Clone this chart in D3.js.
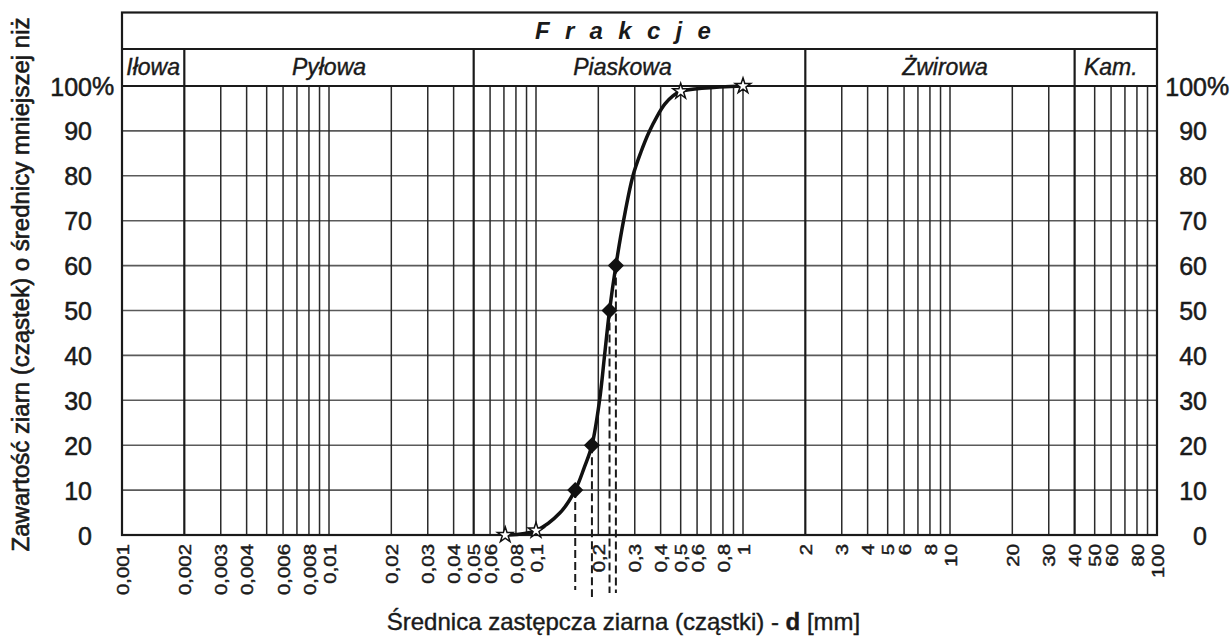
<!DOCTYPE html>
<html><head><meta charset="utf-8">
<script src="https://cdn.jsdelivr.net/npm/d3@7/dist/d3.min.js"></script>
<style>
html,body{margin:0;padding:0;background:#fff;}
svg{display:block;font-family:"Liberation Sans",Arial,sans-serif;}
</style></head>
<body><svg id="c" width="1231" height="641"></svg>
<script>
// ---- data ----
const gridDecades = [0.001, 0.01, 0.1, 1, 10];
const gridMultipliers = [1, 2, 3, 4, 5, 6, 7, 8, 9];
const xTickValues = [0.001,0.002,0.003,0.004,0.006,0.008,0.01,0.02,0.03,0.04,0.05,0.06,0.08,0.1,0.2,0.3,0.4,0.5,0.6,0.8,1,2,3,4,5,6,8,10,20,30,40,50,60,80,100];
const xTickLabels = ["0,001","0,002","0,003","0,004","0,006","0,008","0,01","0,02","0,03","0,04","0,05","0,06","0,08","0,1","0,2","0,3","0,4","0,5","0,6","0,8","1","2","3","4","5","6","8","10","20","30","40","50","60","80","100"];
const yTickValues = [0,10,20,30,40,50,60,70,80,90,100];
const fractionNames = ["Iłowa","Pyłowa","Piaskowa","Żwirowa","Kam."];
const fractionBounds = [0.001, 0.002, 0.05, 2, 40, 100];
const curveD = [0.071,0.1,0.131,0.1547,0.171,0.1863,0.2028,0.2144,0.2266,0.2432,0.2648,0.294,0.3214,0.3513,0.384,0.4198,0.4588,0.5,1.0];
const curveP = [0,1,5,10,15,20,30,40,50,60,70,80,85.3,89.7,93.2,96,97.8,98.8,100];
const starD = [0.071,0.1,0.5,1.0];
const starP = [0,1,98.8,100];
const diamondD = [0.1547,0.1863,0.2266,0.2432];
const diamondP = [10,20,50,60];
const title = "Frakcje";
const yTitle = "Zawartość ziarn (cząstek) o średnicy mniejszej niż";

// ---- layout ----
const L = 122, R = 1157, T = 12.5, ROW = 49, TOP = 86, B = 535;
const INK = "#1a1a1a";
const svg = d3.select("#c");
const x = d3.scaleLog().domain([0.001, 100]).range([L, R]);
const y = d3.scaleLinear().domain([0, 100]).range([B, TOP]);

const gridValues = [];
gridDecades.forEach(dec => gridMultipliers.forEach(m => gridValues.push(+(m * dec).toPrecision(3))));
gridValues.push(100);

// horizontal grid
svg.append("g").selectAll("line").data(yTickValues.filter(v => v > 0 && v < 100)).join("line")
  .attr("x1", L).attr("x2", R).attr("y1", d => y(d)).attr("y2", d => y(d))
  .attr("stroke", "#5a5a5a").attr("stroke-width", 1.6);

// vertical grid
svg.append("g").selectAll("line").data(gridValues.filter(v => v > 0.001 && v < 100 && !fractionBounds.includes(v))).join("line")
  .attr("x1", d => x(d)).attr("x2", d => x(d)).attr("y1", TOP).attr("y2", B)
  .attr("stroke", "#2a2a2a").attr("stroke-width", 1.5);

// fraction dividers
svg.append("g").selectAll("line").data(fractionBounds.slice(1, -1)).join("line")
  .attr("x1", d => x(d)).attr("x2", d => x(d)).attr("y1", ROW).attr("y2", B)
  .attr("stroke", INK).attr("stroke-width", 2.2);

// header lines and frame
svg.append("line").attr("x1", L).attr("x2", R).attr("y1", ROW).attr("y2", ROW).attr("stroke", INK).attr("stroke-width", 2);
svg.append("line").attr("x1", L).attr("x2", R).attr("y1", TOP).attr("y2", TOP).attr("stroke", INK).attr("stroke-width", 2.2);
svg.append("rect").attr("x", L).attr("y", T).attr("width", R - L).attr("height", B - T)
  .attr("fill", "none").attr("stroke", INK).attr("stroke-width", 2.2);

// header text
svg.append("text").attr("x", 535).attr("y", 39).text(title)
  .attr("font-size", 24).attr("font-weight", "bold").attr("font-style", "italic")
  .attr("letter-spacing", 15.3).attr("fill", INK);
const labelShift = [0, 0, -17, 5, -5];
svg.append("g").selectAll("text").data(fractionNames).join("text")
  .attr("x", (d, i) => (x(fractionBounds[i]) + x(fractionBounds[i + 1])) / 2 + labelShift[i])
  .attr("y", 75).attr("text-anchor", "middle")
  .attr("font-size", 23).attr("font-style", "italic").attr("fill", INK)
  .attr("stroke", INK).attr("stroke-width", 0.4)
  .text(d => d);

// bottom axis labels
const xAxis = d3.axisBottom(x).tickValues(xTickValues).tickSize(0)
  .tickFormat((d, i) => xTickLabels[i]);
const gx = svg.append("g").attr("transform", `translate(0,${B})`).call(xAxis);
gx.select(".domain").remove();
gx.selectAll("text")
  .attr("x", 0).attr("y", 0).attr("dy", "0.36em")
  .attr("transform", "translate(0,9) rotate(-90) scale(1.2,1)")
  .attr("text-anchor", "end").attr("font-size", 17).attr("fill", INK)
  .attr("stroke", INK).attr("stroke-width", 0.45)
  .attr("font-family", "Liberation Sans, Arial, sans-serif");

// left / right axes
function styleY(g) {
  g.select(".domain").remove();
  g.selectAll("text").attr("font-size", 25).attr("fill", INK)
    .attr("stroke", INK).attr("stroke-width", 0.5)
    .attr("font-family", "Liberation Sans, Arial, sans-serif")
    .attr("text-anchor", "end").attr("dy", "0.36em");
}
const gl = svg.append("g").attr("transform", `translate(${L},0)`)
  .call(d3.axisLeft(y).tickValues(yTickValues).tickSize(0).tickPadding(30).tickFormat(d => d));
styleY(gl);
const gr = svg.append("g").attr("transform", `translate(${R},0)`)
  .call(d3.axisRight(y).tickValues(yTickValues).tickSize(0).tickFormat(d => d));
styleY(gr);
gr.selectAll("text").attr("x", 50);
// percent sign after 100
[L - 30, R + 50].forEach(px => {
  svg.append("text").attr("x", px).attr("y", y(100)).attr("dy", "0.36em")
    .attr("font-size", 25).attr("fill", INK).attr("stroke", INK).attr("stroke-width", 0.5).text("%");
});

// axis titles
svg.append("text")
  .attr("transform", `translate(29,${(17 + 552) / 2}) rotate(-90)`)
  .attr("text-anchor", "middle").attr("font-size", 23).attr("fill", INK)
  .attr("stroke", INK).attr("stroke-width", 0.6)
  .attr("textLength", 534).attr("lengthAdjust", "spacingAndGlyphs")
  .text(yTitle);
const xt = svg.append("text").attr("x", (385 + 862) / 2).attr("y", 630)
  .attr("text-anchor", "middle").attr("font-size", 24).attr("fill", INK)
  .attr("stroke", INK).attr("stroke-width", 0.4);
xt.append("tspan").text("Średnica zastępcza ziarna (cząstki) - ");
xt.append("tspan").attr("font-weight", "bold").text("d");
xt.append("tspan").text(" [mm]");

// dashed drop lines
const dashEnd = [590, 597, 593, 593];
svg.append("g").selectAll("line").data(diamondD).join("line")
  .attr("x1", d => x(d)).attr("x2", d => x(d))
  .attr("y1", (d, i) => y(diamondP[i])).attr("y2", (d, i) => dashEnd[i])
  .attr("stroke", INK).attr("stroke-width", 2).attr("stroke-dasharray", "8,4");

// curve
const line = d3.line().x(d => x(d[0])).y(d => y(d[1])).curve(d3.curveCatmullRom.alpha(0.5));
svg.append("path").datum(curveD.map((d, i) => [d, curveP[i]]))
  .attr("d", line).attr("fill", "none").attr("stroke", "#111").attr("stroke-width", 3.5)
  .attr("stroke-linejoin", "round");

// markers
svg.append("g").selectAll("path").data(diamondD).join("path")
  .attr("transform", (d, i) => `translate(${x(d)},${y(diamondP[i])}) rotate(45)`)
  .attr("d", d3.symbol(d3.symbolSquare, 130)()).attr("fill", "#111");
svg.append("g").selectAll("path").data(starD).join("path")
  .attr("transform", (d, i) => `translate(${x(d)},${y(starP[i])})`)
  .attr("d", d3.symbol(d3.symbolStar, 75)())
  .attr("fill", "#fff").attr("stroke", "#111").attr("stroke-width", 1.5);
</script></body></html>
